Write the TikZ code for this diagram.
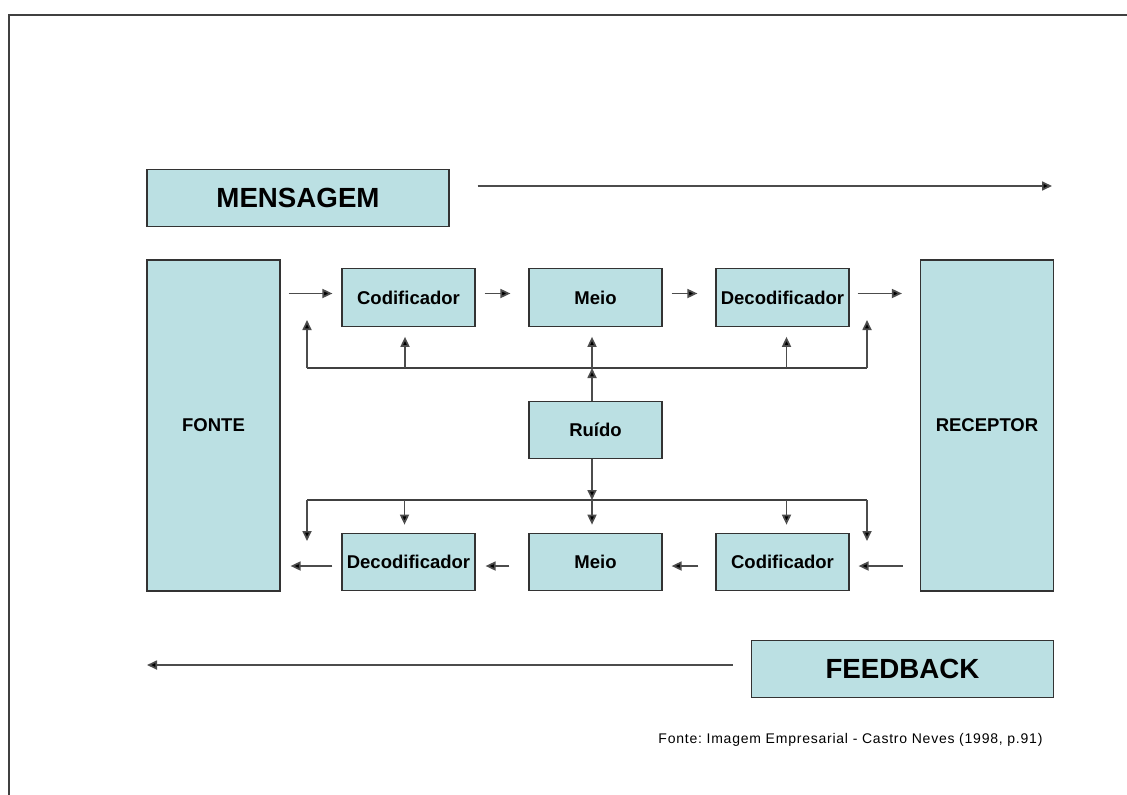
\documentclass[tikz,border=0pt]{standalone}
\usepackage{fontspec}
\setmainfont{Liberation Sans}
\usetikzlibrary{positioning, arrows.meta}

\definecolor{boxfill}{HTML}{BBE0E3}

\begin{document}
\frenchspacing
\begin{tikzpicture}[
  x=1pt, y=-1pt,
  font=\bfseries\fontsize{18.5}{21}\selectfont,
  block/.style={
    draw=black!80, fill=boxfill, line width=1.2pt,
    inner sep=0pt, minimum width=#1, minimum height=57.5pt
  },
  block/.default=133pt,
  title/.style={block=302pt, font=\bfseries\fontsize{27.7}{31}\selectfont},
  tall/.style={block=133pt, minimum height=331pt},
  arr/.style={draw=black!70, line width=1.7pt,
              -{Triangle[length=10pt,width=9pt,fill=black]}},
  bus/.style={draw=black!75, line width=1.7pt},
  frame/.style={draw=black!75, line width=1.8pt}
]

\useasboundingbox (0,0) rectangle (1127,795);
\draw[frame] (9,795) -- (9,15) -- (1127,15);

% ── Title bars ───────────────────────────────────────────────────────────────
\node[title] (msg)  at (298,198)   {MENSAGEM};
\node[title] (feed) at (902.5,669) {FEEDBACK};

% ── Source and receiver ──────────────────────────────────────────────────────
\node[tall] (fonte)    at (213.5,425.5) {FONTE};
\node[tall] (receptor) at (987,425.5)   {RECEPTOR};

% ── 1. Forward chain (top) ───────────────────────────────────────────────────
\node[block] (codA)   at (408.5,297.5) {Codificador};
\node[block] (meioA)  at (595.5,297.5) {Meio};
\node[block] (decodA) at (782.5,297.5) {Decodificador};

% ── 2. Noise ─────────────────────────────────────────────────────────────────
\node[block] (ruido) at (595.5,430) {Ruído};

% ── 3. Return chain (bottom) ─────────────────────────────────────────────────
\node[block] (decodB) at (408.5,562) {Decodificador};
\node[block] (meioB)  at (595.5,562) {Meio};
\node[block] (codB)   at (782.5,562) {Codificador};

% ── Citation ─────────────────────────────────────────────────────────────────
\node[font=\fontsize{14}{16}\selectfont\addfontfeature{LetterSpace=5.5}, anchor=east] (cite)
  at (1046,740) {Fonte: Imagem Empresarial - Castro Neves (1998, p.91)};

% ── Long arrows ──────────────────────────────────────────────────────────────
\coordinate (msgEnd)  at (1052,186);
\coordinate (feedEnd) at (147,665);
\draw[arr] ([xshift=28pt,yshift=12pt]msg.east) -- (msgEnd);
\draw[arr] ([xshift=-18pt,yshift=4pt]feed.west) -- (feedEnd);

% ── Forward arrows ───────────────────────────────────────────────────────────
\draw[arr] ([xshift=8pt,yshift=4pt]fonte.east |- codA.west) -- ([xshift=-9pt,yshift=4pt]codA.west);
\draw[arr] ([xshift=9pt,yshift=4pt]codA.east) -- ([xshift=-18pt,yshift=4pt]meioA.west);
\draw[arr] ([xshift=9pt,yshift=4pt]meioA.east) -- ([xshift=-18pt,yshift=4pt]decodA.west);
\draw[arr] ([xshift=8pt,yshift=4pt]decodA.east) -- ([xshift=-18pt,yshift=4pt]receptor.west |- decodA.east);

% ── Return arrows ────────────────────────────────────────────────────────────
\draw[arr] ([xshift=-17pt,yshift=-4pt]receptor.west |- codB.east) -- ([xshift=9pt,yshift=-4pt]codB.east);
\draw[arr] ([xshift=-17pt,yshift=-4pt]codB.west) -- ([xshift=9pt,yshift=-4pt]meioB.east);
\draw[arr] ([xshift=-19pt,yshift=-4pt]meioB.west) -- ([xshift=10pt,yshift=-4pt]decodB.east);
\draw[arr] ([xshift=-9pt,yshift=-4pt]decodB.west) -- ([xshift=10pt,yshift=-4pt]fonte.east |- decodB.west);

% ── Noise bus (top) ──────────────────────────────────────────────────────────
\coordinate (busTL) at (307,368);
\coordinate (busTR) at (867,368);
\coordinate (tipTL) at (307,320);
\coordinate (tipTR) at (867,320);
\draw[bus] (busTL) -- (busTR);
\draw[arr] (busTL) -- (tipTL);
\draw[arr] (busTR) -- (tipTR);
\draw[arr] ([xshift=-3.5pt]codA.south |- busTL) -- ([xshift=-3.5pt,yshift=-10pt]codA.south);
\draw[arr] ([xshift=-3.5pt]meioA.south |- busTL) -- ([xshift=-3.5pt,yshift=-10pt]meioA.south);
\draw[arr] ([xshift=4pt]decodA.south |- busTL) -- ([xshift=4pt,yshift=-10pt]decodA.south);
\draw[arr] ([xshift=-3.5pt]ruido.north) -- ([xshift=-3.5pt]ruido.north |- busTL);

% ── Noise bus (bottom) ───────────────────────────────────────────────────────
\coordinate (busBL) at (307,500);
\coordinate (busBR) at (867,500);
\coordinate (tipBL) at (307,541);
\coordinate (tipBR) at (867,541);
\draw[bus] (busBL) -- (busBR);
\draw[arr] (busBL) -- (tipBL);
\draw[arr] (busBR) -- (tipBR);
\draw[arr] ([xshift=-3.5pt]ruido.south) -- ([xshift=-3.5pt]ruido.south |- busBL);
\draw[arr] ([xshift=-4pt]decodB.north |- busBL) -- ([xshift=-4pt,yshift=8pt]decodB.north);
\draw[arr] ([xshift=-3.5pt]meioB.north |- busBL) -- ([xshift=-3.5pt,yshift=8pt]meioB.north);
\draw[arr] ([xshift=4pt]codB.north |- busBL) -- ([xshift=4pt,yshift=8pt]codB.north);

\end{tikzpicture}
\end{document}
